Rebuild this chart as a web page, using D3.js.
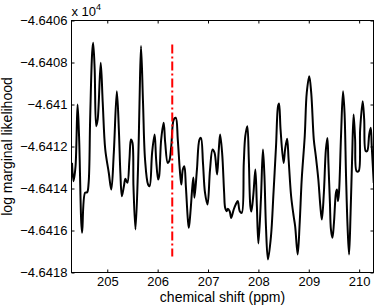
<!DOCTYPE html>
<html>
<head>
<meta charset="utf-8">
<script src="https://cdn.jsdelivr.net/npm/d3@7"></script>
<style>
  body { margin: 0; background: #fff; }
  #chart text { font-family: "Liberation Sans", Arial, Helvetica, sans-serif; fill: #000; }
</style>
</head>
<body>
<div id="chart"></div>
<script>
// Chemical shift grid (ppm)
var shiftPpm = [
  204.30, 204.33, 204.37, 204.41, 204.44, 204.50, 204.56, 204.60, 204.63, 204.66,
  204.70, 204.72, 204.75, 204.78, 204.81, 204.87, 204.91, 204.96, 205.03, 205.08,
  205.13, 205.19, 205.23, 205.26, 205.29, 205.33, 205.36, 205.40, 205.44, 205.47,
  205.50, 205.52, 205.56, 205.61, 205.64, 205.67, 205.71, 205.75, 205.81, 205.84,
  205.89, 205.94, 205.97, 206.01, 206.03, 206.07, 206.12, 206.15, 206.20, 206.23,
  206.27, 206.32, 206.36, 206.40, 206.44, 206.47, 206.50, 206.53, 206.56, 206.60,
  206.62, 206.65, 206.69, 206.71, 206.73, 206.78, 206.83, 206.86, 206.90, 206.94,
  206.99, 207.04, 207.09, 207.13, 207.18, 207.21, 207.24, 207.28, 207.32, 207.34,
  207.37, 207.39, 207.43, 207.46, 207.51, 207.55, 207.59, 207.63, 207.67, 207.71,
  207.74, 207.78, 207.81, 207.84, 207.86, 207.90, 207.94, 207.97, 208.00, 208.05,
  208.09, 208.12, 208.15, 208.19, 208.25, 208.30, 208.35, 208.39, 208.41, 208.44,
  208.50, 208.53, 208.57, 208.60, 208.65, 208.70, 208.73, 208.78, 208.82, 208.86,
  208.92, 208.96, 209.01, 209.05, 209.10, 209.14, 209.19, 209.23, 209.26, 209.30,
  209.34, 209.37, 209.39, 209.42, 209.44, 209.47, 209.50, 209.54, 209.56, 209.58,
  209.60, 209.64, 209.68, 209.71, 209.74, 209.77, 209.80, 209.83, 209.86, 209.89,
  209.92, 209.95, 209.99, 210.02, 210.07, 210.10, 210.13, 210.16, 210.20, 210.23,
  210.25, 210.29
];

// log marginal likelihood at each shift
var logLik = [
  -46412.78, -46413.65, -46412.94, -46410.00, -46411.51, -46416.11, -46414.20, -46414.18, -46413.73, -46410.71,
  -46407.54, -46407.06, -46408.33, -46411.03, -46410.71, -46408.01, -46409.92, -46412.14, -46413.25, -46414.05,
  -46412.30, -46409.37, -46411.19, -46413.25, -46414.37, -46413.89, -46413.54, -46413.73, -46412.62, -46411.67,
  -46411.82, -46413.89, -46415.95, -46413.10, -46409.92, -46407.22, -46409.92, -46412.62, -46413.81, -46413.89,
  -46412.30, -46411.43, -46412.62, -46413.57, -46413.41, -46411.67, -46410.87, -46411.82, -46412.78, -46412.70,
  -46411.99, -46410.71, -46410.63, -46411.67, -46413.10, -46413.81, -46413.10, -46412.94, -46413.89, -46415.48,
  -46415.87, -46415.16, -46413.89, -46413.48, -46414.44, -46413.10, -46411.67, -46411.59, -46412.78, -46414.20,
  -46414.76, -46413.10, -46412.14, -46412.30, -46413.33, -46412.30, -46411.43, -46412.30, -46414.20, -46414.92,
  -46415.08, -46414.97, -46415.08, -46415.40, -46415.00, -46414.76, -46414.60, -46415.08, -46415.16, -46412.78,
  -46411.51, -46411.03, -46412.62, -46414.84, -46415.10, -46414.29, -46413.10, -46414.84, -46416.62, -46414.52,
  -46412.14, -46413.41, -46415.80, -46417.38, -46416.27, -46414.20, -46411.99, -46410.08, -46409.95, -46411.19,
  -46412.78, -46412.14, -46411.63, -46412.62, -46414.37, -46415.32, -46415.80, -46417.14, -46415.63, -46413.57,
  -46411.51, -46409.44, -46408.65, -46409.48, -46411.67, -46412.46, -46413.57, -46414.84, -46415.48, -46414.20,
  -46412.14, -46411.59, -46412.78, -46414.68, -46415.95, -46416.35, -46415.63, -46414.20, -46414.05, -46414.60,
  -46414.20, -46411.51, -46409.37, -46410.40, -46413.41, -46415.80, -46417.14, -46415.16, -46412.62, -46410.48,
  -46411.67, -46413.18, -46413.18, -46411.19, -46409.84, -46410.71, -46412.22, -46412.22, -46411.43, -46411.11,
  -46411.99, -46413.73
];

// axis ticks
var xTicks = [205, 206, 207, 208, 209, 210];
var yTicks = [-46406, -46408, -46410, -46412, -46414, -46416, -46418];

// red dash-dot marker: position and vertical extent
var markerShift = 206.29;
var markerRange = [-46407.14, -46417.24];

var width = 374, height = 308;
var plotLeft = 71.5, plotRight = 373.5, plotTop = 20.5, plotBottom = 272.5;

var svg = d3.select("#chart")
  .append("svg")
  .attr("width", width)
  .attr("height", height);

var x = d3.scaleLinear()
  .domain([204.29, 210.285])
  .range([plotLeft, plotRight]);

var y = d3.scaleLinear()
  .domain([-46418, -46406])
  .range([plotBottom, plotTop]);

// clip for the curve
svg.append("clipPath")
  .attr("id", "plotclip")
  .append("rect")
  .attr("x", plotLeft)
  .attr("y", plotTop)
  .attr("width", plotRight - plotLeft)
  .attr("height", plotBottom - plotTop);

var pts = shiftPpm.map(function(s, i) { return [s, logLik[i]]; });

// smooth a little, the original trace is densely sampled
var line = d3.line()
  .curve(d3.curveCatmullRom.alpha(0.5))
  .x(function(d) { return x(d[0]); })
  .y(function(d) { return y(d[1]); });

svg.append("path")
  .datum(pts)
  .attr("clip-path", "url(#plotclip)")
  .attr("d", line)
  .style("fill", "none")
  .style("stroke", "#000")
  .style("stroke-width", 2)
  .style("stroke-linejoin", "round");

// marker line
svg.append("line")
  .attr("x1", x(markerShift))
  .attr("x2", x(markerShift))
  .attr("y1", y(markerRange[0]))
  .attr("y2", y(markerRange[1]))
  .style("stroke", "#ff0000")
  .style("stroke-width", 2)
  .style("stroke-dasharray", "9,3,2,3");

// tick labels as value / 10^4
function fmtY(d) {
  return String(+(d / 1e4).toFixed(4)).replace("-", "\u2212");
}

function styleAxis(g) {
  g.select(".domain").remove();
  g.selectAll(".tick line").style("stroke", "#000");
  g.selectAll(".tick text").style("font-size", "13px");
}

svg.append("g")
  .attr("transform", "translate(0," + plotBottom + ")")
  .call(d3.axisBottom(x).tickValues(xTicks).tickSizeInner(-3).tickSizeOuter(0).tickPadding(4).tickFormat(d3.format("d")))
  .call(styleAxis);

svg.append("g")
  .attr("transform", "translate(0," + plotTop + ")")
  .call(d3.axisTop(x).tickValues(xTicks).tickSizeInner(-3).tickSizeOuter(0).tickFormat(""))
  .call(styleAxis);

svg.append("g")
  .attr("transform", "translate(" + plotLeft + ",0)")
  .call(d3.axisLeft(y).tickValues(yTicks).tickSizeInner(-3).tickSizeOuter(0).tickPadding(4).tickFormat(fmtY))
  .call(styleAxis);

svg.append("g")
  .attr("transform", "translate(" + plotRight + ",0)")
  .call(d3.axisRight(y).tickValues(yTicks).tickSizeInner(-3).tickSizeOuter(0).tickFormat(""))
  .call(styleAxis);

// box
svg.append("rect")
  .attr("x", plotLeft)
  .attr("y", plotTop)
  .attr("width", plotRight - plotLeft)
  .attr("height", plotBottom - plotTop)
  .style("fill", "none")
  .style("stroke", "#000")
  .style("stroke-width", 1);

// exponent label
var expo = svg.append("text")
  .attr("x", plotLeft)
  .attr("y", 16)
  .style("font-size", "13px");
expo.append("tspan").text("x 10");
expo.append("tspan")
  .attr("dy", -6)
  .style("font-size", "9px")
  .text("4");

// axis titles
svg.append("text")
  .attr("x", (plotLeft + plotRight) / 2)
  .attr("y", 302)
  .attr("text-anchor", "middle")
  .style("font-size", "14px")
  .text("chemical shift (ppm)");

svg.append("text")
  .attr("transform", "translate(12," + ((plotTop + plotBottom) / 2) + ") rotate(-90)")
  .attr("text-anchor", "middle")
  .style("font-size", "14px")
  .text("log marginal likelihood");
</script>
</body>
</html>
